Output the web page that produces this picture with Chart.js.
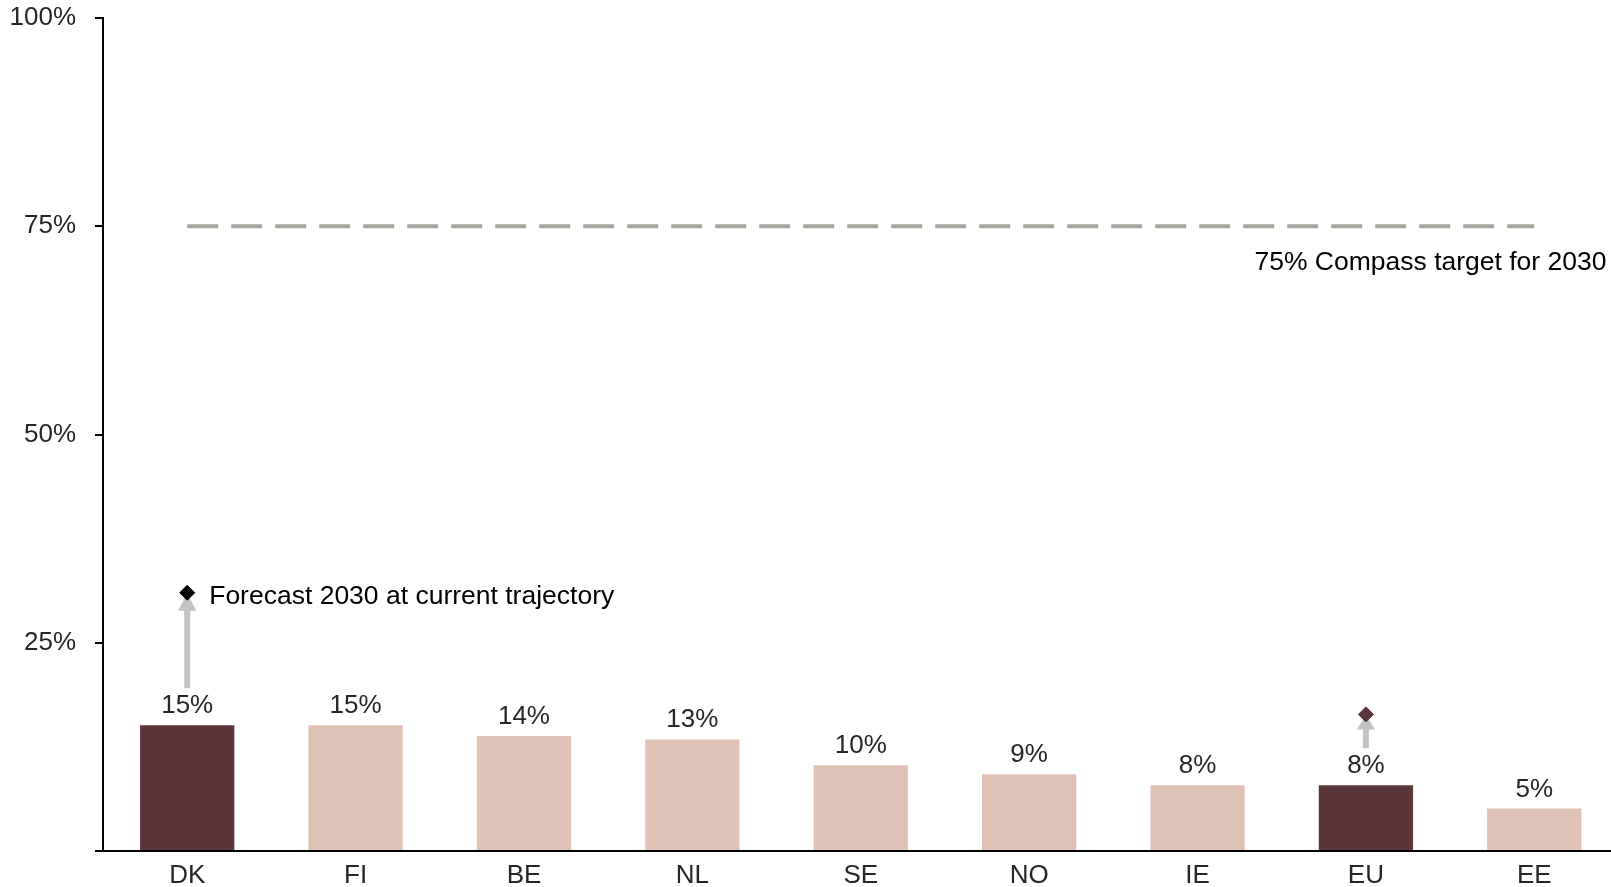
<!DOCTYPE html>
<html lang="en">
<head>
<meta charset="utf-8">
<title>Share vs 2030 Compass target</title>
<script src="https://cdn.jsdelivr.net/npm/chart.js@4/dist/chart.umd.min.js"></script>
<style>
  html, body { margin: 0; padding: 0; background: #fff; overflow: hidden; }
  #share-chart { display: block; }
</style>
</head>
<body>
<canvas id="share-chart" width="1640" height="887"></canvas>
<script>
// Datos
const categories = ['DK', 'FI', 'BE', 'NL', 'SE', 'NO', 'IE', 'EU', 'EE'];
const shareValues = [15.1, 15.1, 13.8, 13.4, 10.3, 9.2, 7.9, 7.9, 5.1];
const forecast2030 = [31.0, null, null, null, null, null, null, 16.4, null];
const targetValues = [75, 75, 75, 75, 75, 75, 75, 75, 75];
const yTickValues = [0, 25, 50, 75, 100];
const highlighted = ['DK', 'EU'];
const targetLabel = '75% Compass target for 2030';
const forecastLabel = 'Forecast 2030 at current trajectory';

const FONT = "'Liberation Sans', Arial, Helvetica, sans-serif";
const DARK = '#5a3539';
const LIGHT = '#e0c1b6';
const TEXT = '#262626';

/**
 * Flechas, etiquetas de valor y textos de anotación.
 */
const annotationPlugin = {
    id: 'annotations',
    beforeDatasetsDraw(chart) {
        const ctx = chart.ctx;
        const bars = chart.getDatasetMeta(0).data;
        const points = chart.getDatasetMeta(2).data;
        ctx.save();
        ctx.fillStyle = '#c3c3c3';
        forecast2030.forEach((v, i) => {
            if (v == null) return;
            const x = bars[i].x;
            const from = bars[i].y - 37;   // justo encima de la etiqueta
            const to = points[i].y;        // punta en el rombo
            const head = Math.min(18, (from - to) * 0.45);
            ctx.fillRect(x - 3, to + head - 1, 6, from - to - head + 1);
            ctx.beginPath();
            ctx.moveTo(x, to);
            ctx.lineTo(x - 9, to + head);
            ctx.lineTo(x + 9, to + head);
            ctx.closePath();
            ctx.fill();
        });
        ctx.restore();
    },
    afterDatasetsDraw(chart) {
        const ctx = chart.ctx;
        const bars = chart.getDatasetMeta(0).data;
        const points = chart.getDatasetMeta(2).data;
        const yScale = chart.scales.y;
        ctx.save();
        ctx.textBaseline = 'alphabetic';

        // Etiquetas encima de cada barra
        ctx.font = `26px ${FONT}`;
        ctx.fillStyle = TEXT;
        ctx.textAlign = 'center';
        bars.forEach((bar, i) => {
            ctx.fillText(Math.round(shareValues[i]) + '%', bar.x, bar.y - 12);
        });

        // Texto de la meta
        ctx.font = `26.5px ${FONT}`;
        ctx.fillStyle = '#000';
        ctx.textAlign = 'right';
        ctx.fillText(targetLabel, chart.chartArea.right - 12, yScale.getPixelForValue(targetValues[0]) + 44);

        // Texto del pronóstico junto al primer rombo
        const first = forecast2030.findIndex(v => v != null);
        ctx.textAlign = 'left';
        ctx.fillText(forecastLabel, points[first].x + 22, points[first].y + 11);
        ctx.restore();
    }
};

const ctx = document.getElementById('share-chart');
new Chart(ctx, {
    type: 'bar',
    data: {
        labels: categories,
        datasets: [
            {
                data: shareValues,
                backgroundColor: categories.map(c => highlighted.includes(c) ? DARK : LIGHT),
                borderWidth: 0,
                barPercentage: 0.56,
                categoryPercentage: 1
            },
            {
                type: 'line',
                data: targetValues,
                borderColor: '#a9a69f',
                borderWidth: 4,
                borderDash: [31, 13],
                borderCapStyle: 'butt',
                pointRadius: 0,
                fill: false
            },
            {
                type: 'line',
                data: forecast2030,
                showLine: false,
                pointStyle: 'rectRot',
                pointRadius: 7.5,
                pointBorderWidth: 1,
                pointBackgroundColor: categories.map(c => c === 'EU' ? DARK : '#000'),
                pointBorderColor: categories.map(c => c === 'EU' ? DARK : '#000')
            }
        ]
    },
    options: {
        responsive: false,
        animation: false,
        events: [],
        layout: { padding: { top: 18, right: 21.5, left: 0, bottom: 0 } },
        plugins: {
            legend: { display: false },
            tooltip: { enabled: false }
        },
        scales: {
            x: {
                offset: true,
                grid: { display: false, drawTicks: false, tickLength: 0 },
                border: { display: true, color: '#000', width: 2 },
                ticks: {
                    color: TEXT,
                    font: { family: FONT, size: 26 },
                    padding: 9,
                    maxRotation: 0,
                    autoSkip: false
                },
                afterFit(scale) { scale.height = 36; }
            },
            y: {
                min: 0,
                max: 100,
                afterBuildTicks(scale) {
                    scale.ticks = yTickValues.map(v => ({ value: v }));
                },
                ticks: {
                    color: TEXT,
                    font: { family: FONT, size: 26 },
                    padding: 19,
                    callback: v => v === 0 ? '' : v + '%'
                },
                grid: {
                    drawOnChartArea: false,
                    drawTicks: true,
                    tickLength: 8,
                    color: '#000',
                    lineWidth: 2
                },
                border: { display: true, color: '#000', width: 2 },
                afterFit(scale) {
                    scale.width = 103;
                    scale.paddingTop = 18;
                    scale.paddingBottom = 0;
                }
            }
        }
    },
    plugins: [annotationPlugin]
});
</script>
</body>
</html>
